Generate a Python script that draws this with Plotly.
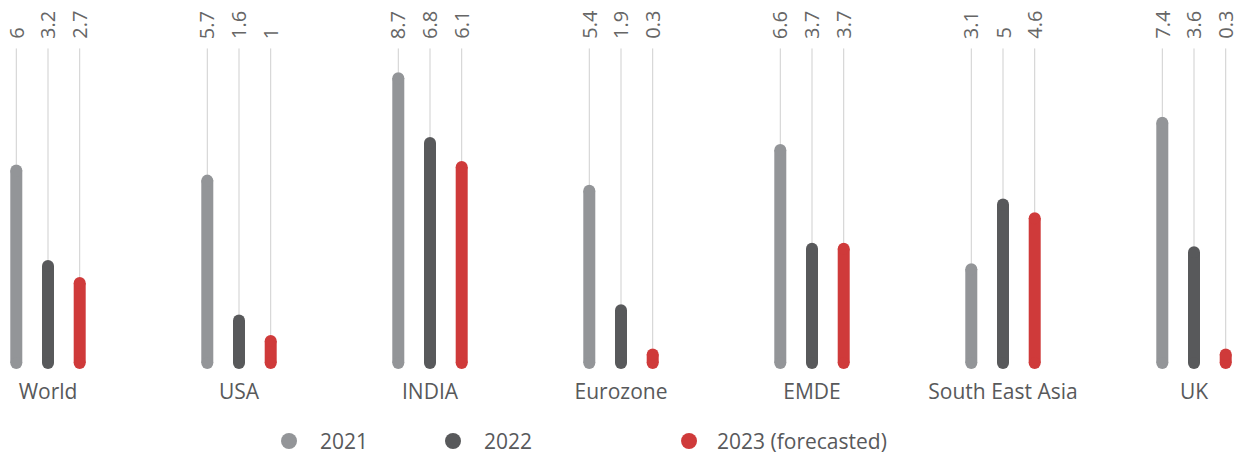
import plotly.graph_objects as go

# --------------------------------------------------------------------------- #
#  Data (GDP growth, %)
# --------------------------------------------------------------------------- #
categories = ["World", "USA", "INDIA", "Eurozone", "EMDE", "South East Asia", "UK"]
years = ["2021", "2022", "2023 (forecasted)"]
g2021 = [6, 5.7, 8.7, 5.4, 6.6, 3.1, 7.4]
g2022 = [3.2, 1.6, 6.8, 1.9, 3.7, 5, 3.6]
g2023 = [2.7, 1, 6.1, 0.3, 3.7, 4.6, 0.3]
series = [g2021, g2022, g2023]

COLORS = ["#939598", "#58595b", "#cf3a3a"]
GUIDE = "#cfcfcf"
TEXT = "#58595b"
FONT = "Open Sans"

# --------------------------------------------------------------------------- #
#  Geometry (data units)
# --------------------------------------------------------------------------- #
STEP = 0.166        # distance between bars within a group
CAP = 0.176         # half the pill width, in y units
MIN_STEM = 0.25     # minimum visible stem for tiny values
GUIDE_TOP = 9.40    # where thin guide lines end
LABEL_Y = 9.62      # base of rotated value labels
BAR_PX = 12

fig = go.Figure()

for k, vals in enumerate(series):
    xs_g, ys_g, xs_b, ys_b = [], [], [], []
    for i, v in enumerate(vals):
        x = i + (k - 1) * STEP
        top = max(v - CAP, CAP + MIN_STEM)
        xs_g += [x, x, None]
        ys_g += [top + CAP, GUIDE_TOP, None]
        xs_b += [x, x, None]
        ys_b += [CAP, top, None]
        fig.add_annotation(x=x, y=LABEL_Y, text=str(v), textangle=-90,
                           showarrow=False, yanchor="bottom", xanchor="center",
                           font=dict(size=20, color="#666666", family=FONT))
    # thin guide line up to the label
    fig.add_trace(go.Scatter(x=xs_g, y=ys_g, mode="lines", showlegend=False,
                             line=dict(color=GUIDE, width=1), hoverinfo="skip"))
    # rounded pill = thick line + round markers at both ends
    fig.add_trace(go.Scatter(
        x=xs_b, y=ys_b, mode="lines+markers", showlegend=False,
        line=dict(color=COLORS[k], width=BAR_PX),
        marker=dict(color=COLORS[k], size=BAR_PX, line=dict(width=0)),
        hoverinfo="skip",
    ))

# legends: three separate boxes to match the uneven spacing
legend_x = [0.2026, 0.3355, 0.5292]
legend_w = [52, 52, 46]
for k, name in enumerate(years):
    lg = "legend" if k == 0 else f"legend{k + 1}"
    fig.add_trace(go.Scatter(x=[None], y=[None], mode="markers", name=name,
                             marker=dict(color=COLORS[k], size=18), legend=lg))
    fig.update_layout({lg: dict(
        x=legend_x[k], y=-0.2004, xanchor="left", yanchor="middle",
        orientation="h", itemwidth=legend_w[k], bgcolor="rgba(0,0,0,0)",
        font=dict(size=21, color=TEXT, family=FONT),
    )})

# page body offsets the figure by 8px, so it is drawn 8px smaller each way
fig.update_layout(
    width=1234, height=449,
    margin=dict(l=0, r=0, t=0, b=88, autoexpand=False),
    paper_bgcolor="white", plot_bgcolor="white",
    font=dict(family=FONT, color=TEXT),
)
fig.update_xaxes(range=[-0.2094, 6.2513], tickvals=list(range(len(categories))),
                 ticktext=categories, showgrid=False, zeroline=False,
                 showline=False, ticks="", ticklabelstandoff=8, automargin=False,
                 tickfont=dict(size=21, color=TEXT, family=FONT))
fig.update_yaxes(range=[0, 10.586], visible=False, fixedrange=True)

fig.write_html("out.html")
